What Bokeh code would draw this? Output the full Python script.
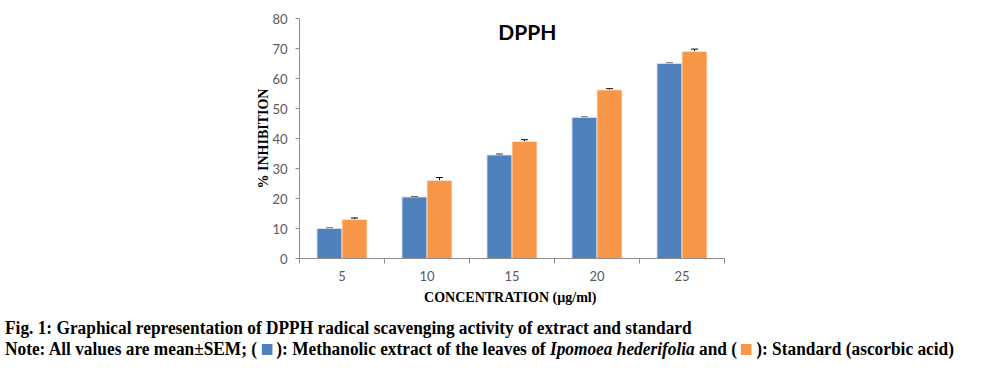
from bokeh.plotting import figure
from bokeh.models import (ColumnDataSource, FixedTicker, Whisker, Label, Div, Range1d)
from bokeh.layouts import column
from bokeh.embed import file_html
from bokeh.resources import INLINE
from bokeh.transform import dodge

concentrations = ["5", "10", "15", "20", "25"]
extract_vals = [10.0, 20.5, 34.5, 47.0, 65.0]
extract_sem = [0.15, 0.15, 0.3, 0.15, 0.15]
standard_vals = [13.0, 26.0, 39.0, 56.2, 69.0]
standard_sem = [0.5, 1.0, 0.6, 0.4, 0.8]
y_ticks = [0, 10, 20, 30, 40, 50, 60, 70, 80]

BLUE = "#4F81BD"
ORANGE = "#F79646"

xpos = [i + 0.5 for i in range(len(concentrations))]
bw = 0.294
src = ColumnDataSource(dict(
    x=xpos,
    ext=extract_vals,
    std=standard_vals,
    ext_lo=[v - e for v, e in zip(extract_vals, extract_sem)],
    ext_hi=[v + e for v, e in zip(extract_vals, extract_sem)],
    std_lo=[v - e for v, e in zip(standard_vals, standard_sem)],
    std_hi=[v + e for v, e in zip(standard_vals, standard_sem)],
))

p = figure(width=978, height=308, output_backend="svg", toolbar_location=None,
           x_range=Range1d(0, len(concentrations)), y_range=Range1d(0, 80),
           min_border_left=299, min_border_right=254, min_border_top=18,
           min_border_bottom=50)
p.outline_line_color = None
p.grid.grid_line_color = None
p.background_fill_color = "white"

p.vbar(x=dodge("x", -bw / 2), top="ext", width=bw, source=src,
       fill_color=BLUE, line_color="#DCE6F2", line_width=0.8)
p.vbar(x=dodge("x", bw / 2), top="std", width=bw, source=src,
       fill_color=ORANGE, line_color="#FDE9D9", line_width=0.8)

for lo, hi, off in [("ext_lo", "ext_hi", -bw / 2), ("std_lo", "std_hi", bw / 2)]:
    w = Whisker(base=dodge("x", off), lower=lo, upper=hi, source=src,
                line_color="black", line_width=1)
    w.upper_head.size = 7
    w.lower_head.size = 7
    w.upper_head.line_color = "black"
    w.lower_head.line_color = "black"
    p.add_layout(w)

# x axis
p.xaxis.ticker = FixedTicker(ticks=xpos, minor_ticks=list(range(len(concentrations) + 1)))
p.xaxis.major_label_overrides = {x: c for x, c in zip(xpos, concentrations)}
p.xaxis.major_tick_out = 0
p.xaxis.major_tick_in = 0
p.xaxis.minor_tick_out = 5
p.xaxis.minor_tick_in = 0
p.xaxis.minor_tick_line_color = "#8C8C8C"
p.xaxis.axis_line_color = "#8C8C8C"
p.xaxis.major_label_standoff = 7
p.xaxis.axis_label = "CONCENTRATION  (µg/ml)"
p.xaxis.axis_label_standoff = 6

# y axis
p.yaxis.ticker = FixedTicker(ticks=y_ticks)
p.yaxis.major_tick_out = 4
p.yaxis.major_tick_in = 0
p.yaxis.minor_tick_line_color = None
p.yaxis.axis_line_color = "#8C8C8C"
p.yaxis.major_tick_line_color = "#8C8C8C"
p.yaxis.major_label_standoff = 8
p.yaxis.axis_label = "% INHIBITION"
p.yaxis.axis_label_standoff = -2

for ax in (p.xaxis, p.yaxis):
    ax.major_label_text_font = "Lato"
    ax.major_label_text_font_size = "13px"
    ax.major_label_text_color = "#595959"
    ax.axis_label_text_font = "Liberation Serif"
    ax.axis_label_text_font_style = "bold"
    ax.axis_label_text_font_size = "14px"
    ax.axis_label_text_color = "black"

title = Label(x=2.68, y=75.8, text="DPPH", text_font="Lato", text_font_style="bold",
              text_font_size="21px", text_align="center", text_baseline="middle",
              text_color="black")
p.add_layout(title)

caption = Div(width=978, height=56, text=(
    '<div style="font-family:\'Liberation Serif\'; font-weight:bold; font-size:18px; '
    'line-height:21px; color:black; margin-top:5px; white-space:nowrap; '
    'transform:scaleX(0.962); transform-origin:0 0;">'
    'Fig. 1: Graphical representation of DPPH radical scavenging activity of extract and standard<br>'
    'Note: All values are mean±SEM; ( <span style="display:inline-block;width:11px;height:11px;'
    'background:#4F81BD;"></span> ): Methanolic extract of the leaves of <i>Ipomoea hederifolia</i> and '
    '( <span style="display:inline-block;width:11px;height:11px;background:#F79646;"></span> ): '
    'Standard (ascorbic acid)</div>'))

layout = column(p, caption, spacing=0)
open("out.html", "w").write(file_html(layout, INLINE))
